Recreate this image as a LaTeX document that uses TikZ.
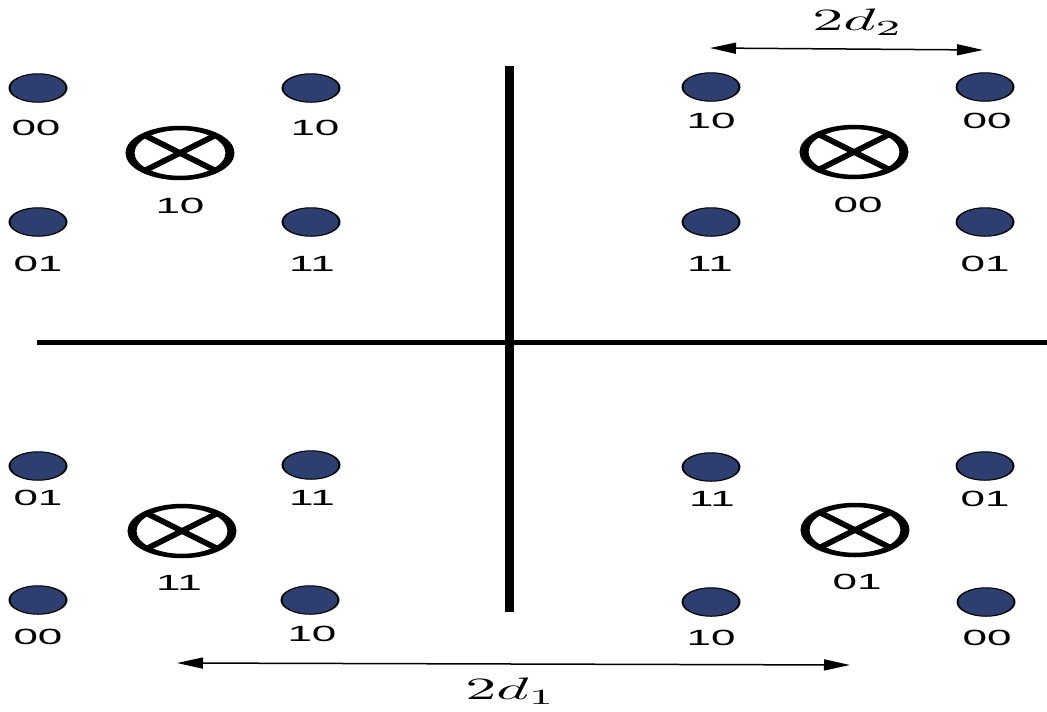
\documentclass[tikz,border=0pt]{standalone}
\usepackage{fontspec}
\newfontfamily\labfont{Liberation Sans}
\usetikzlibrary{arrows.meta}
\definecolor{dotblue}{RGB}{46,62,110}
\tikzset{
  dotnode/.style={circle,draw=black,fill=dotblue,line width=1pt,minimum size=28.5pt,inner sep=0pt},
  crossnode/.style={circle,draw=black,line width=4.5pt,minimum size=50pt,inner sep=0pt,outer sep=0pt},
  xline/.style={line width=4.5pt},
  lab/.style={font=\labfont\fontsize{22}{22}\selectfont,inner sep=0pt},
  mlab/.style={inner sep=0pt},
  vaxis/.style={line width=4.5pt},
  haxis/.style={line width=5pt},
  dimline/.style={line width=1.5pt,{Triangle[length=13pt,width=11pt]}-{Triangle[length=13pt,width=11pt]}},
}
\begin{document}
\begin{tikzpicture}
\fill[white] (0pt,0pt) rectangle (1047pt,-712pt);
\useasboundingbox (0pt,0pt) rectangle (1047pt,-712pt);
\begin{scope}[transform canvas={xscale=2},x=0.5pt,y=-1pt]
  % axes
  \coordinate (vtop) at (509.5,66);
  \coordinate (vbot) at (509.5,612);
  \coordinate (hleft) at (37,342.5);
  \coordinate (hright) at (1047,342.5);
  \draw[vaxis] (vtop) -- (vbot);
  \draw[haxis] (hleft) -- (hright);

  % top-left quadrant
  \node[dotnode] (tl1) at (38,88) {};   \node[lab] (ltl1) at (36,128) {00};
  \node[dotnode] (tl2) at (311,88) {};  \node[lab] (ltl2) at (315,128) {10};
  \node[dotnode] (tl3) at (38,222) {};  \node[lab] (ltl3) at (38,264) {01};
  \node[dotnode] (tl4) at (311,222) {}; \node[lab] (ltl4) at (312,264) {11};
  \node[crossnode] (ctl) at (180,153) {};
  \draw[xline] (ctl.north west) -- (ctl.south east);
  \draw[xline] (ctl.north east) -- (ctl.south west);
  \node[lab] (lctl) at (180,206) {10};

  % top-right quadrant
  \node[dotnode] (tr1) at (711,87) {};  \node[lab] (ltr1) at (711,121) {10};
  \node[dotnode] (tr2) at (985,87) {};  \node[lab] (ltr2) at (987,121) {00};
  \node[dotnode] (tr3) at (711,222) {}; \node[lab] (ltr3) at (710,264) {11};
  \node[dotnode] (tr4) at (985,222) {}; \node[lab] (ltr4) at (985,264) {01};
  \node[crossnode] (ctr) at (854,152) {};
  \draw[xline] (ctr.north west) -- (ctr.south east);
  \draw[xline] (ctr.north east) -- (ctr.south west);
  \node[lab] (lctr) at (858,205) {00};

  % bottom-left quadrant
  \node[dotnode] (bl1) at (38,466) {};  \node[lab] (lbl1) at (38,498) {01};
  \node[dotnode] (bl2) at (311,465) {}; \node[lab] (lbl2) at (312,498) {11};
  \node[dotnode] (bl3) at (38,600) {};  \node[lab] (lbl3) at (38,637) {00};
  \node[dotnode] (bl4) at (310,600) {}; \node[lab] (lbl4) at (312,634) {10};
  \node[crossnode] (cbl) at (182,531) {};
  \draw[xline] (cbl.north west) -- (cbl.south east);
  \draw[xline] (cbl.north east) -- (cbl.south west);
  \node[lab] (lcbl) at (179,583) {11};

  % bottom-right quadrant
  \node[dotnode] (br1) at (711,467) {}; \node[lab] (lbr1) at (712,499) {11};
  \node[dotnode] (br2) at (985,466) {}; \node[lab] (lbr2) at (985,499) {01};
  \node[dotnode] (br3) at (711,602) {}; \node[lab] (lbr3) at (711,638) {10};
  \node[dotnode] (br4) at (986,602) {}; \node[lab] (lbr4) at (987,638) {00};
  \node[crossnode] (cbr) at (855,530) {};
  \draw[xline] (cbr.north west) -- (cbr.south east);
  \draw[xline] (cbr.north east) -- (cbr.south west);
  \node[lab] (lcbr) at (857,582) {01};

  % dimension arrows
  \coordinate (d2l) at (710,48);
  \coordinate (d2r) at (983,50);
  \draw[dimline] (d2l) -- (d2r);
  \node[mlab] (d2lab) at (858,22) {\scalebox{3.1}{$2d_2$}};

  \coordinate (d1l) at (177,663);
  \coordinate (d1r) at (850,665);
  \draw[dimline] (d1l) -- (d1r);
  \node[mlab] (d1lab) at (511,691) {\scalebox{3.1}{$2d_1$}};
\end{scope}
\end{tikzpicture}
\end{document}
